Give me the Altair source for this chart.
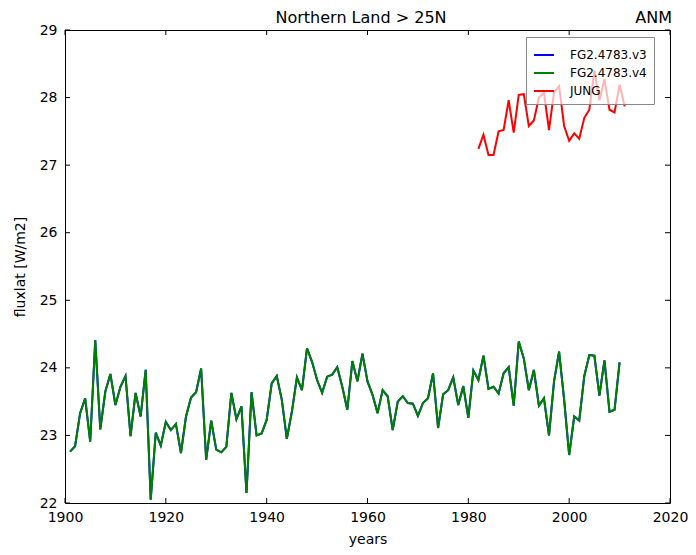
import altair as alt
import pandas as pd

years_fg = list(range(1901, 2011))
fg_v4 = [
    22.76, 22.84, 23.33, 23.55, 22.91, 24.41, 23.09, 23.65, 23.91, 23.45,
    23.72, 23.88, 22.99, 23.63, 23.28, 23.97, 22.05, 23.04, 22.85, 23.20,
    23.08, 23.17, 22.74, 23.28, 23.56, 23.64, 23.99, 22.64, 23.22, 22.79,
    22.75, 22.83, 23.63, 23.24, 23.43, 22.15, 23.64, 23.00, 23.03, 23.23,
    23.77, 23.88, 23.53, 22.95, 23.35, 23.86, 23.67, 24.29, 24.09, 23.82,
    23.63, 23.87, 23.90, 24.01, 23.72, 23.38, 24.10, 23.80, 24.21, 23.80,
    23.60, 23.33, 23.67, 23.58, 23.08, 23.50, 23.58, 23.48, 23.47, 23.29,
    23.48, 23.55, 23.92, 23.11, 23.61, 23.67, 23.86, 23.45, 23.73, 23.26,
    23.96, 23.82, 24.18, 23.69, 23.72, 23.62, 23.92, 24.01, 23.44, 24.39,
    24.14, 23.67, 23.97, 23.44, 23.55, 23.00, 23.80, 24.24, 23.53, 22.71,
    23.28, 23.22, 23.88, 24.19, 24.18, 23.59, 24.11, 23.35, 23.38, 24.08,
]
fg_v3 = list(fg_v4)  # hidden under v4 in the reference

years_jung = list(range(1982, 2012))
jung = [
    27.24, 27.45, 27.15, 27.15, 27.50, 27.52, 27.96, 27.48, 28.04, 28.05,
    27.58, 27.66, 28.00, 28.07, 27.52, 28.08, 28.17, 27.58, 27.36, 27.47,
    27.39, 27.70, 27.82, 28.40, 27.96, 28.27, 27.82, 27.78, 28.19, 27.87,
]

series_names = ["FG2.4783.v3", "FG2.4783.v4", "JUNG"]
series_colors = ["#0000ff", "#008000", "#ff0000"]
x_ticks = [1900, 1920, 1940, 1960, 1980, 2000, 2020]
y_ticks = [22, 23, 24, 25, 26, 27, 28, 29]

W, H = 605, 473
FONT = "DejaVu Sans"

df_v3 = pd.DataFrame({"year": years_fg, "value": fg_v3, "series": series_names[0]})
df_v4 = pd.DataFrame({"year": years_fg, "value": fg_v4, "series": series_names[1]})
df_j = pd.DataFrame({"year": years_jung, "value": jung, "series": series_names[2]})

xs = alt.Scale(domain=[1900, 2020], nice=False, zero=False)
ys = alt.Scale(domain=[22, 29], nice=False, zero=False)
cs = alt.Scale(domain=series_names, range=series_colors)

x_enc = alt.X("year:Q", scale=xs,
              axis=alt.Axis(values=x_ticks, format="d", title="years", grid=False,
                            ticks=False, domain=False, labelPadding=7,
                            titlePadding=8, labelFlush=False,
                            labelFont=FONT, titleFont=FONT, labelFontSize=14,
                            titleFontSize=14, labelColor="black",
                            titleColor="black", titleFontWeight="normal"))
y_enc = alt.Y("value:Q", scale=ys,
              axis=alt.Axis(values=y_ticks, format="d", title="fluxlat [W/m2]",
                            grid=False, ticks=False, domain=False, labelPadding=8,
                            titlePadding=12, labelFlush=False,
                            labelFont=FONT, titleFont=FONT, labelFontSize=14,
                            titleFontSize=14, labelColor="black",
                            titleColor="black", titleFontWeight="normal"))
legend = alt.Legend(title=None, orient="none", legendX=W - 144, legendY=7,
                    symbolType="stroke", symbolSize=400, symbolStrokeWidth=2,
                    labelFontSize=12, labelFont=FONT, labelOffset=15,
                    labelColor="black",
                    padding=7, rowPadding=1, strokeColor="#888888",
                    fillColor="rgba(255,255,255,0.7)", cornerRadius=0,
                    labelLimit=200)


def line(df):
    return alt.Chart(df).mark_line(strokeWidth=2).encode(
        x=x_enc, y=y_enc,
        color=alt.Color("series:N", scale=cs, legend=legend),
    )


xt = pd.DataFrame({"year": x_ticks})
yt = pd.DataFrame({"value": y_ticks})
tick_style = dict(color="black", strokeWidth=1)
tb = alt.Chart(xt).mark_rule(**tick_style).encode(
    x=alt.X("year:Q", scale=xs), y=alt.value(H), y2=alt.value(H - 5))
tt = alt.Chart(xt).mark_rule(**tick_style).encode(
    x=alt.X("year:Q", scale=xs), y=alt.value(0), y2=alt.value(5))
tl = alt.Chart(yt).mark_rule(**tick_style).encode(
    y=alt.Y("value:Q", scale=ys), x=alt.value(0), x2=alt.value(5))
tr = alt.Chart(yt).mark_rule(**tick_style).encode(
    y=alt.Y("value:Q", scale=ys), x=alt.value(W), x2=alt.value(W - 5))

one = pd.DataFrame({"t": ["Northern Land > 25N"], "r": ["ANM"]})
title_main = alt.Chart(one).mark_text(
    font=FONT, fontSize=16, align="center", baseline="alphabetic", color="black"
).encode(text="t:N", x=alt.value(296), y=alt.value(-7))
title_right = alt.Chart(one).mark_text(
    font=FONT, fontSize=16, align="right", baseline="alphabetic", color="black"
).encode(text="r:N", x=alt.value(W + 2), y=alt.value(-7))

chart = alt.layer(
    line(df_v3), line(df_v4), line(df_j), tb, tt, tl, tr, title_main, title_right
).properties(
    width=W, height=H,
    autosize=alt.AutoSizeParams(type="none"),
    padding={"left": 57, "top": 22, "right": 18, "bottom": 44},
    background="white",
).configure_view(
    stroke="black", strokeWidth=1
)

chart.save("out.html", embed_options={"renderer": "svg", "actions": False})
